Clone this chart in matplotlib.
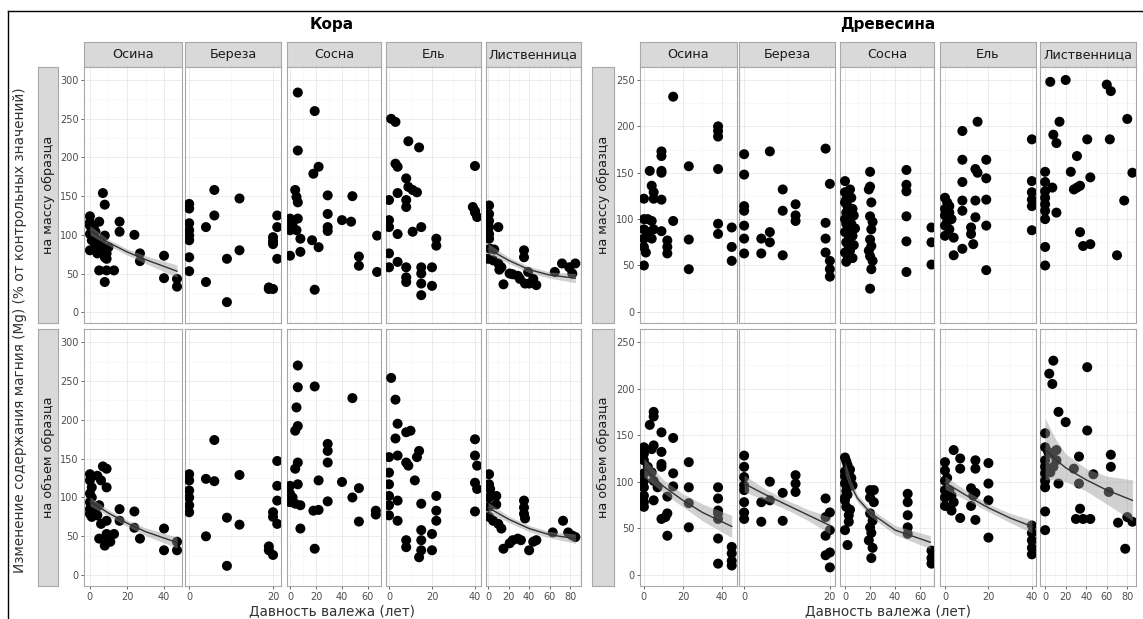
"""Mg content change in bark and wood of downed logs vs decay time (faceted)."""

import matplotlib
matplotlib.use('Agg')
import matplotlib.pyplot as plt
from matplotlib.lines import Line2D
import numpy as np

plt.rcParams['font.family'] = ['DejaVu Sans']

W, H = 1143, 619

# ---- data: (decay time, % of control) ----
species = ['Осина', 'Береза', 'Сосна', 'Ель', 'Лиственница']
row_labels = ['на массу образца', 'на объем образца']

kora_massa_osina = [(0, 124), (0, 116), (2, 110), (5, 117), (0, 101), (1, 93), (3, 86), (0, 80), (4, 76),
                    (7, 84), (8, 99), (9, 76), (9, 69), (1, 108), (0, 112), (2, 98), (3, 104), (6, 90),
                    (5, 79), (7, 154), (8, 139), (16, 117), (16, 104), (24, 100), (27, 76), (27, 66),
                    (5, 54), (9, 54), (13, 54), (8, 39), (40, 73), (40, 44), (47, 43), (47, 33), (8, 71),
                    (10, 84), (4, 92)]
kora_massa_bereza = [(0, 140), (0, 134), (0, 115), (0, 106), (0, 99), (0, 93), (0, 71), (0, 53), (4, 110),
                     (6, 158), (6, 125), (4, 39), (9, 69), (9, 13), (12, 147), (12, 80), (20, 88), (20, 97),
                     (21, 125), (21, 110), (21, 69), (19, 32), (20, 30), (19, 30), (20, 92)]
kora_massa_sosna = [(6, 284), (19, 260), (6, 209), (18, 179), (22, 188), (4, 158), (5, 149), (6, 142),
                    (0, 121), (6, 121), (0, 110), (5, 106), (8, 95), (0, 73), (8, 78), (0, 106), (2, 115),
                    (17, 93), (22, 84), (19, 29), (29, 151), (29, 127), (29, 110), (29, 105), (40, 119),
                    (47, 117), (48, 150), (53, 72), (53, 60), (67, 99), (67, 52)]
kora_massa_el = [(1, 250), (3, 246), (9, 221), (14, 213), (3, 192), (4, 188), (8, 173), (9, 162), (0, 145),
                 (4, 154), (8, 145), (11, 158), (13, 155), (8, 136), (0, 119), (0, 110), (4, 101), (11, 104),
                 (15, 110), (22, 95), (22, 86), (0, 76), (0, 58), (4, 65), (8, 58), (8, 45), (8, 39), (15, 58),
                 (15, 50), (15, 37), (20, 58), (20, 34), (15, 22), (40, 189), (39, 136), (40, 129), (41, 123),
                 (40, 131)]
kora_massa_listv = [(1, 138), (1, 127), (1, 118), (1, 110), (1, 101), (1, 95), (10, 110), (2, 82), (6, 81),
                    (0, 69), (5, 67), (10, 63), (11, 55), (13, 58), (21, 50), (15, 36), (24, 49), (29, 47),
                    (31, 43), (35, 80), (35, 71), (36, 37), (40, 37), (47, 35), (44, 43), (39, 52), (65, 52),
                    (72, 63), (79, 58), (85, 63), (82, 50)]

kora_obem_osina = [(7, 140), (9, 137), (0, 122), (1, 113), (0, 105), (0, 94), (0, 85), (0, 79), (4, 128),
                   (6, 122), (9, 113), (5, 90), (4, 77), (6, 66), (9, 70), (13, 53), (9, 53), (10, 45), (5, 47),
                   (8, 38), (11, 43), (16, 85), (16, 70), (24, 82), (24, 61), (27, 47), (40, 60), (40, 32),
                   (47, 43), (47, 32), (0, 130), (1, 100), (2, 88), (3, 82), (1, 75)]
kora_obem_bereza = [(0, 130), (0, 122), (0, 109), (0, 100), (0, 90), (0, 81), (4, 124), (6, 121), (6, 174),
                    (4, 50), (9, 74), (9, 12), (12, 129), (12, 65), (21, 147), (21, 115), (21, 96), (20, 81),
                    (20, 75), (21, 66), (19, 32), (20, 26), (19, 37)]
kora_obem_sosna = [(6, 270), (6, 242), (19, 243), (5, 216), (4, 186), (6, 192), (4, 137), (6, 145), (6, 117),
                   (0, 115), (0, 105), (0, 94), (4, 92), (8, 90), (22, 122), (18, 83), (22, 84), (8, 60),
                   (19, 34), (29, 169), (29, 160), (29, 145), (29, 95), (40, 120), (48, 100), (53, 112),
                   (48, 228), (53, 69), (66, 83), (66, 78), (2, 100)]
kora_obem_el = [(1, 254), (3, 226), (4, 195), (3, 176), (8, 184), (10, 186), (0, 152), (4, 154), (8, 145),
                (9, 141), (13, 152), (14, 160), (0, 132), (0, 117), (0, 102), (0, 90), (0, 77), (4, 96), (4, 70),
                (12, 122), (15, 92), (8, 45), (8, 36), (15, 58), (15, 45), (15, 32), (14, 23), (20, 53),
                (20, 32), (22, 102), (22, 83), (22, 70), (40, 175), (40, 154), (41, 141), (40, 119), (41, 111),
                (40, 82)]
kora_obem_listv = [(1, 130), (1, 117), (2, 111), (8, 102), (8, 91), (1, 75), (5, 70), (10, 66), (13, 60),
                   (15, 34), (21, 41), (24, 45), (29, 47), (32, 45), (35, 96), (35, 87), (35, 79), (36, 73),
                   (40, 32), (44, 43), (47, 45), (63, 55), (73, 70), (78, 55), (82, 51), (85, 49), (1, 100),
                   (1, 88)]

drev_massa_osina = [(15, 232), (38, 200), (38, 195), (38, 189), (9, 173), (9, 168), (3, 152), (9, 152),
                    (9, 150), (23, 157), (38, 154), (4, 136), (5, 129), (0, 122), (5, 122), (9, 121), (0, 100),
                    (2, 100), (4, 98), (15, 98), (0, 89), (2, 86), (5, 89), (9, 87), (0, 79), (4, 79), (0, 70),
                    (1, 64), (12, 77), (12, 70), (12, 63), (23, 78), (38, 95), (38, 84), (45, 91), (45, 70),
                    (45, 55), (0, 50), (23, 46)]
drev_massa_bereza = [(0, 170), (0, 148), (0, 114), (0, 109), (0, 93), (0, 79), (0, 63), (4, 79), (4, 63),
                     (6, 86), (6, 75), (6, 173), (9, 132), (9, 109), (9, 61), (12, 116), (12, 104), (12, 98),
                     (19, 176), (20, 138), (19, 96), (19, 79), (19, 64), (20, 55), (20, 46), (20, 38)]
drev_massa_sosna = [(0, 141), (0, 129), (1, 121), (2, 114), (3, 107), (0, 100), (2, 93), (0, 86), (3, 86),
                    (1, 75), (3, 70), (0, 64), (1, 54), (2, 61), (3, 79), (4, 100), (1, 107), (0, 118), (2, 126),
                    (4, 132), (5, 123), (6, 111), (5, 95), (6, 82), (7, 72), (4, 66), (6, 58), (8, 90), (7, 104),
                    (1, 95), (20, 151), (20, 135), (21, 118), (20, 103), (21, 89), (20, 78), (21, 71), (20, 60),
                    (21, 46), (20, 25), (19, 132), (22, 97), (19, 66), (22, 55), (49, 153), (49, 137), (49, 130),
                    (49, 103), (49, 76), (49, 43), (69, 91), (69, 75), (69, 51)]
drev_massa_el = [(15, 205), (8, 195), (8, 164), (14, 154), (15, 150), (19, 164), (19, 144), (8, 140), (0, 123),
                 (1, 118), (0, 111), (2, 114), (0, 104), (2, 107), (0, 93), (2, 89), (0, 82), (4, 80), (4, 61),
                 (8, 120), (8, 109), (8, 68), (12, 91), (12, 84), (13, 73), (14, 120), (14, 102), (19, 121),
                 (19, 93), (19, 45), (40, 186), (40, 141), (40, 129), (40, 121), (40, 114), (40, 88), (1, 97),
                 (3, 100)]
drev_massa_listv = [(5, 248), (20, 250), (60, 245), (64, 238), (14, 205), (8, 191), (11, 182), (80, 208),
                    (41, 186), (63, 186), (31, 168), (0, 151), (0, 140), (0, 130), (0, 123), (0, 116), (0, 109),
                    (0, 100), (25, 151), (28, 132), (31, 134), (34, 136), (44, 145), (7, 134), (11, 107),
                    (85, 150), (77, 120), (0, 70), (0, 50), (34, 86), (37, 71), (44, 73), (70, 61)]

drev_obem_osina = [(5, 175), (5, 170), (3, 161), (5, 139), (4, 135), (9, 153), (9, 132), (9, 119), (9, 116),
                   (15, 147), (15, 109), (15, 95), (23, 121), (23, 94), (23, 77), (23, 51), (0, 137), (0, 130),
                   (0, 123), (2, 116), (0, 109), (0, 101), (0, 94), (0, 85), (0, 78), (0, 73), (4, 110),
                   (5, 101), (7, 94), (5, 80), (12, 84), (12, 66), (11, 62), (12, 42), (9, 60), (38, 94),
                   (38, 82), (38, 69), (38, 66), (38, 60), (38, 39), (38, 12), (45, 30), (45, 23), (45, 15),
                   (45, 10)]
drev_obem_bereza = [(0, 128), (0, 116), (0, 105), (0, 96), (0, 91), (0, 78), (0, 67), (0, 60), (4, 78),
                    (4, 57), (6, 100), (6, 80), (9, 88), (9, 58), (12, 107), (12, 98), (12, 89), (19, 82),
                    (19, 62), (19, 42), (19, 21), (20, 67), (20, 48), (20, 24), (20, 8)]
drev_obem_sosna = [(0, 126), (1, 122), (2, 118), (4, 113), (0, 111), (0, 106), (4, 101), (0, 98), (2, 94),
                   (0, 83), (0, 80), (1, 73), (3, 64), (0, 48), (2, 32), (3, 108), (5, 104), (1, 90), (2, 86),
                   (4, 70), (6, 96), (3, 57), (20, 91), (23, 91), (20, 83), (23, 78), (20, 66), (22, 58),
                   (20, 51), (21, 45), (19, 37), (22, 29), (21, 18), (50, 87), (50, 78), (50, 64), (50, 51),
                   (50, 44), (69, 26), (69, 18), (69, 12)]
drev_obem_el = [(4, 134), (7, 125), (7, 114), (14, 123), (14, 114), (20, 120), (20, 98), (20, 80), (0, 121),
                (0, 112), (0, 101), (0, 91), (0, 83), (0, 74), (2, 91), (3, 85), (4, 78), (12, 93), (13, 85),
                (12, 74), (14, 88), (3, 69), (7, 61), (14, 59), (20, 40), (40, 53), (40, 45), (40, 37),
                (40, 29), (40, 22), (1, 104)]
drev_obem_listv = [(8, 230), (4, 216), (7, 205), (13, 175), (20, 164), (41, 223), (41, 155), (0, 152),
                   (0, 137), (3, 132), (7, 130), (11, 134), (0, 123), (0, 116), (0, 109), (0, 101), (0, 94),
                   (11, 123), (8, 116), (5, 110), (13, 98), (33, 127), (28, 114), (33, 98), (47, 108),
                   (64, 129), (64, 116), (62, 89), (0, 68), (0, 48), (30, 60), (34, 71), (37, 60), (44, 60),
                   (71, 56), (78, 28), (80, 62), (85, 57)]

# smooth fits: (x, fitted, lower, upper)
fit_kora_massa_osina = [(0, 106, 100, 112), (10, 90, 86, 94), (20, 78, 74, 82), (30, 68, 63, 73), (47, 53, 45, 61)]
fit_kora_massa_listv = [(0, 82, 75, 89), (20, 67, 63, 71), (40, 55, 51, 59), (60, 48, 44, 52), (85, 44, 38, 50)]
fit_kora_obem_osina = [(0, 95, 89, 101), (10, 80, 76, 84), (20, 67, 63, 71), (30, 56, 51, 61), (47, 42, 35, 49)]
fit_kora_obem_listv = [(0, 87, 80, 94), (20, 72, 68, 76), (40, 60, 56, 64), (60, 52, 48, 56), (85, 47, 41, 53)]
fit_drev_obem_osina = [(0, 115, 105, 125), (10, 95, 88, 102), (20, 80, 73, 87), (30, 67, 58, 76), (45, 52, 40, 64)]
fit_drev_obem_bereza = [(0, 98, 89, 107), (5, 86, 80, 92), (10, 75, 70, 80), (15, 64, 58, 70), (20, 53, 44, 62)]
fit_drev_obem_sosna = [(0, 115, 108, 122), (5, 95, 90, 100), (10, 82, 78, 86), (20, 67, 63, 71), (40, 48, 43, 53),
                       (68, 35, 28, 42)]
fit_drev_obem_el = [(0, 99, 92, 106), (10, 85, 80, 90), (20, 72, 68, 76), (30, 61, 56, 66), (40, 52, 45, 59)]
fit_drev_obem_listv = [(0, 135, 102, 168), (10, 124, 102, 146), (20, 115, 100, 130), (40, 102, 90, 114),
                       (60, 91, 76, 106), (85, 80, 58, 102)]

# x ticks per species column
xticks_osina = [0, 20, 40]
xticks_bereza = [0, 20]
xticks_sosna = [0, 20, 40, 60]
xticks_el = [0, 20, 40]
xticks_listv = [0, 20, 40, 60, 80]

# ---- layout (pixels) ----
kora_cols = [(84, 182), (185, 281), (287, 381), (386, 481), (486, 581)]
drev_cols = [(640, 737), (739, 835), (840, 934), (940, 1036), (1040, 1136)]
kora_xlim = [(-3.2, 49.7), (-1.0, 21.9), (-2.3, 70.0), (-1.4, 42.8), (-2.0, 90.5)]
drev_xlim = [(-2.0, 47.7), (-1.2, 21.2), (-4.0, 71.0), (-2.3, 41.9), (-5.0, 88.5)]
rows = [(67, 323), (329, 586)]
strip_top = (42, 67)

GRID_MAJOR = '#EBEBEB'
GRID_MINOR = '#F4F4F4'
EDGE = '#A8A8A8'
STRIP = '#D9D9D9'
TICK = '#4D4D4D'

fig = plt.figure(figsize=(W / 100, H / 100), dpi=100)


def px_axes(x0, y0, x1, y1):
    return fig.add_axes([x0 / W, 1 - y1 / H, (x1 - x0) / W, (y1 - y0) / H])


def strip(x0, y0, x1, y1, text, rotation=0):
    s = px_axes(x0, y0, x1, y1)
    s.set_facecolor(STRIP)
    s.set_xticks([])
    s.set_yticks([])
    for sp in s.spines.values():
        sp.set_color(EDGE)
        sp.set_linewidth(0.8)
    s.text(0.5, 0.5, text, transform=s.transAxes, ha='center', va='center',
           rotation=rotation, fontsize=9.2, color='#1A1A1A', clip_on=True)


def panel(x0, x1, y0, y1, xlim, ylim, yticks, xticks, pts, fit, show_x, show_y):
    ax = px_axes(x0, y0, x1, y1)
    ax.set_xlim(*xlim)
    ax.set_ylim(*ylim)
    ax.set_xticks(xticks)
    ax.set_xticks([t + 10 for t in xticks if t + 10 < xlim[1]], minor=True)
    ax.set_yticks(yticks)
    ax.set_yticks([t + 25 for t in yticks[:-1]], minor=True)
    ax.grid(which='major', color=GRID_MAJOR, lw=0.7, zorder=0)
    ax.grid(which='minor', color=GRID_MINOR, lw=0.4, zorder=0)
    ax.set_axisbelow(True)
    for sp in ax.spines.values():
        sp.set_color(EDGE)
        sp.set_linewidth(0.8)
    ax.tick_params(which='minor', length=0)
    ax.tick_params(which='major', colors=TICK, labelsize=7, length=2.5, width=0.6, pad=1.5)
    ax.tick_params(axis='x', bottom=show_x, labelbottom=show_x)
    ax.tick_params(axis='y', left=show_y, labelleft=show_y)

    xs, ys = zip(*pts)
    ax.scatter(xs, ys, s=52, color='black', edgecolors='none', zorder=3)
    if fit is not None:
        fx, fy, flo, fhi = (np.array(v) for v in zip(*fit))
        ax.fill_between(fx, flo, fhi, color='#999999', alpha=0.45, lw=0, zorder=4)
        ax.plot(fx, fy, color='#333333', lw=1.0, zorder=5)
    return ax


xticks_all = [xticks_osina, xticks_bereza, xticks_sosna, xticks_el, xticks_listv]

kora_data = [
    [kora_massa_osina, kora_massa_bereza, kora_massa_sosna, kora_massa_el, kora_massa_listv],
    [kora_obem_osina, kora_obem_bereza, kora_obem_sosna, kora_obem_el, kora_obem_listv],
]
kora_fits = [
    [fit_kora_massa_osina, None, None, None, fit_kora_massa_listv],
    [fit_kora_obem_osina, None, None, None, fit_kora_obem_listv],
]
drev_data = [
    [drev_massa_osina, drev_massa_bereza, drev_massa_sosna, drev_massa_el, drev_massa_listv],
    [drev_obem_osina, drev_obem_bereza, drev_obem_sosna, drev_obem_el, drev_obem_listv],
]
drev_fits = [
    [None, None, None, None, None],
    [fit_drev_obem_osina, fit_drev_obem_bereza, fit_drev_obem_sosna, fit_drev_obem_el, fit_drev_obem_listv],
]

blocks = [
    (kora_cols, kora_xlim, kora_data, kora_fits, (-14, 317), list(range(0, 301, 50)), (38, 58)),
    (drev_cols, drev_xlim, drev_data, drev_fits, (-12, 264), list(range(0, 251, 50)), (592, 614)),
]

for cols, xlims, data, fits, ylim, yticks, rstrip in blocks:
    for c, (x0, x1) in enumerate(cols):
        strip(x0, strip_top[0], x1, strip_top[1], species[c])
    for r, (y0, y1) in enumerate(rows):
        strip(rstrip[0], y0, rstrip[1], y1, row_labels[r], rotation=90)
        for c, (x0, x1) in enumerate(cols):
            panel(x0, x1, y0, y1, xlims[c], ylim, yticks, xticks_all[c],
                  data[r][c], fits[r][c], show_x=(r == 1), show_y=(c == 0))

# titles and axis labels
fig.text(332 / W, 1 - 25 / H, 'Кора', ha='center', va='center', fontsize=11, fontweight='bold')
fig.text(888 / W, 1 - 25 / H, 'Древесина', ha='center', va='center', fontsize=11, fontweight='bold')
for cx in (332, 888):
    fig.text(cx / W, 1 - 611 / H, 'Давность валежа (лет)', ha='center', va='center',
             fontsize=9.8, color='#333333')
fig.text(20 / W, 1 - 330 / H, 'Изменение содержания магния (Mg) (% от контрольных значений)',
         ha='center', va='center', rotation=90, fontsize=9.8, color='#333333')

# screenshot frame
fig.add_artist(Line2D([8 / W, 1], [1 - 11 / H, 1 - 11 / H], color='black', lw=1.0))
fig.add_artist(Line2D([8 / W, 8 / W], [0, 1 - 11 / H], color='black', lw=1.0))

fig.savefig('out.png', dpi=100)
plt.close(fig)
